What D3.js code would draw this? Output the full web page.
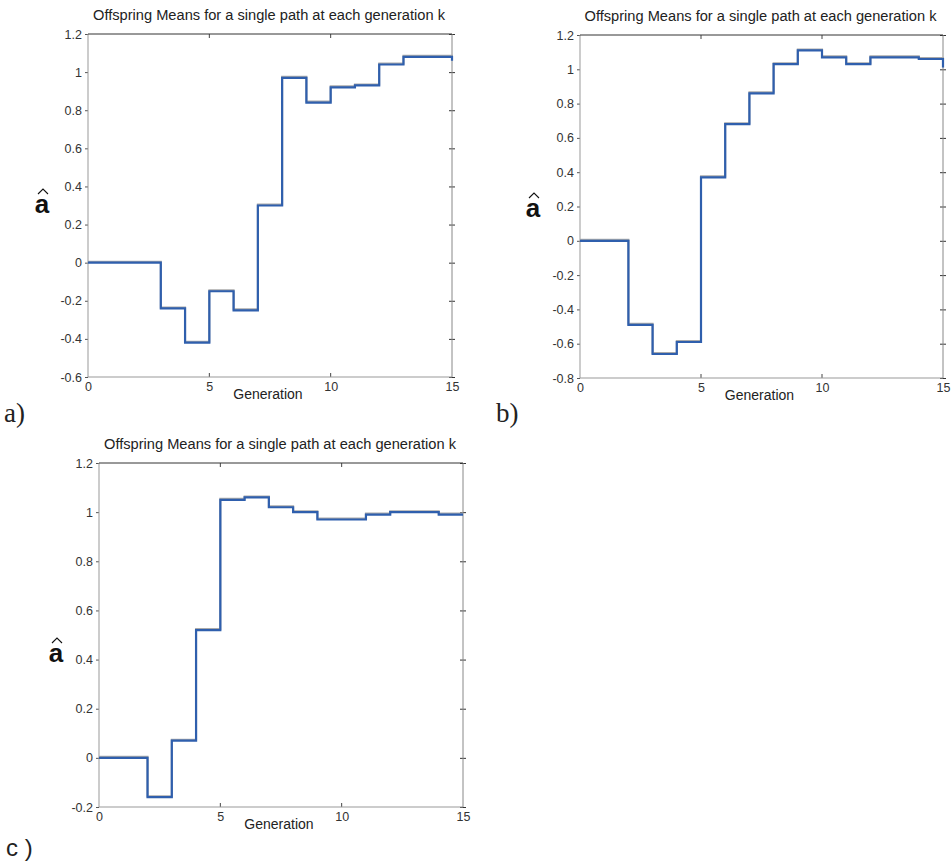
<!DOCTYPE html>
<html>
<head>
<meta charset="utf-8">
<script src="https://cdn.jsdelivr.net/npm/d3@7"></script>
<style>
  body { margin: 0; background: #fff; }
  svg { display: block; font-family: "Liberation Sans", Arial, sans-serif; }
</style>
</head>
<body>
<svg id="chart" width="952" height="861"></svg>
<script>
// generation index and the offspring mean
const generations = [0, 1, 2, 3, 4, 5, 6, 7, 8, 9, 10, 11, 12, 13, 14, 15]
const meansA = [0, 0, 0, -0.24, -0.42, -0.15, -0.25, 0.30, 0.97, 0.84, 0.92, 0.93, 1.04, 1.08, 1.08, 1.06]
const meansB = [0, 0, -0.49, -0.66, -0.59, 0.37, 0.68, 0.86, 1.03, 1.11, 1.07, 1.03, 1.07, 1.07, 1.06, 1.01]
const meansC = [0, 0, -0.16, 0.07, 0.52, 1.05, 1.06, 1.02, 1.00, 0.97, 0.97, 0.99, 1.00, 1.00, 0.99, 0.99]

const xTicks = [0, 5, 10, 15]
const yTicksA = [-0.6, -0.4, -0.2, 0, 0.2, 0.4, 0.6, 0.8, 1, 1.2]
const yTicksB = [-0.8, -0.6, -0.4, -0.2, 0, 0.2, 0.4, 0.6, 0.8, 1, 1.2]
const yTicksC = [-0.2, 0, 0.2, 0.4, 0.6, 0.8, 1, 1.2]

const title = 'Offspring Means for a single path at each generation k'
const xLabel = 'Generation'
const panelLabels = ['a)', 'b)', 'c )']

var svg = d3.select('#chart')

var panels = [
  {values: meansA, yTicks: yTicksA, label: panelLabels[0], left: 88, top: 34, right: 452, bottom: 377,
   labelX: 4, labelY: 422, serif: true, aX: 42, aY: 213},
  {values: meansB, yTicks: yTicksB, label: panelLabels[1], left: 580, top: 35, right: 943, bottom: 378,
   labelX: 496, labelY: 422, serif: true, aX: 533, aY: 217},
  {values: meansC, yTicks: yTicksC, label: panelLabels[2], left: 99, top: 463, right: 463, bottom: 807,
   labelX: 6, labelY: 856, serif: false, aX: 56, aY: 662}
]

function fmt (d) {
  return d === 0 ? '0' : String(+d.toFixed(1))
}

panels.forEach(function (p) {
  var x = d3.scaleLinear().domain([0, 15]).range([p.left, p.right])
  var y = d3.scaleLinear().domain(d3.extent(p.yTicks)).range([p.bottom, p.top])
  var g = svg.append('g')

  // title
  g.append('text')
    .attr('x', (p.left + p.right) / 2 - 1)
    .attr('y', p.top - 14)
    .attr('text-anchor', 'middle')
    .attr('textLength', 352)
    .attr('lengthAdjust', 'spacingAndGlyphs')
    .style('font-size', '14px')
    .style('fill', '#222')
    .text(title)

  // left axis, ticks a bit outside
  var yAxis = g.append('g')
    .attr('transform', 'translate(' + p.left + ',0)')
    .call(d3.axisLeft(y).tickValues(p.yTicks).tickSize(3).tickPadding(3).tickFormat(fmt))
  yAxis.select('.domain').remove()
  yAxis.selectAll('line').attr('stroke', '#555')
  yAxis.selectAll('text').style('font-size', '12.5px').style('fill', '#333').attr('font-family', null)

  // right ticks crossing the frame
  g.append('g')
    .attr('transform', 'translate(' + p.right + ',0)')
    .call(d3.axisRight(y).tickValues(p.yTicks).tickSize(3).tickFormat(''))
    .call(function (s) { s.select('.domain').remove() })
    .selectAll('line').attr('x1', -3).attr('stroke', '#333')

  // bottom axis with inward ticks
  var xAxis = g.append('g')
    .attr('transform', 'translate(0,' + p.bottom + ')')
    .call(d3.axisBottom(x).tickValues(xTicks).tickSize(0).tickPadding(5))
  xAxis.select('.domain').remove()
  xAxis.selectAll('text').style('font-size', '12.5px').style('fill', '#333').attr('font-family', null)
    .attr('dy', '0.71em')

  g.append('g')
    .selectAll('line')
    .data(xTicks.slice(1, 3))
    .enter()
    .append('line')
    .attr('x1', function (d) { return x(d) })
    .attr('x2', function (d) { return x(d) })
    .attr('y1', p.bottom)
    .attr('y2', p.bottom - 4)
    .attr('stroke', '#444')
  g.append('g')
    .selectAll('line')
    .data(xTicks.slice(1, 3))
    .enter()
    .append('line')
    .attr('x1', function (d) { return x(d) })
    .attr('x2', function (d) { return x(d) })
    .attr('y1', p.top)
    .attr('y2', p.top + 4)
    .attr('stroke', '#444')

  // frame
  g.append('line').attr('x1', p.left).attr('x2', p.left).attr('y1', p.top).attr('y2', p.bottom).attr('stroke', '#999')
  g.append('line').attr('x1', p.left).attr('x2', p.right).attr('y1', p.bottom).attr('y2', p.bottom).attr('stroke', '#999')
  g.append('line').attr('x1', p.right).attr('x2', p.right).attr('y1', p.top).attr('y2', p.bottom).attr('stroke', '#888')
  g.append('line').attr('x1', p.left).attr('x2', p.right).attr('y1', p.top).attr('y2', p.top).attr('stroke', '#333')

  // x label
  g.append('text')
    .attr('x', (p.left + p.right) / 2 - 2)
    .attr('y', p.bottom + 22)
    .attr('text-anchor', 'middle')
    .style('font-size', '14px')
    .style('fill', '#222')
    .text(xLabel)

  // y label: a with a hat drawn above it
  g.append('text')
    .attr('x', p.aX)
    .attr('y', p.aY)
    .attr('text-anchor', 'middle')
    .style('font-size', '26px')
    .style('font-weight', 'bold')
    .style('fill', '#111')
    .text('a')
  g.append('path')
    .attr('d', 'M' + (p.aX - 4) + ',' + (p.aY - 19) + 'L' + (p.aX + 1) + ',' + (p.aY - 24) + 'L' + (p.aX + 6) + ',' + (p.aY - 19))
    .attr('fill', 'none')
    .attr('stroke', '#111')
    .attr('stroke-width', 1.1)

  // stairs line
  var line = d3.line()
    .x(function (d, i) { return x(generations[i]) })
    .y(function (d) { return y(d) })
    .curve(d3.curveStepAfter)

  g.append('path')
    .datum(p.values)
    .attr('d', line)
    .attr('fill', 'none')
    .attr('stroke', '#aaa')
    .attr('stroke-width', 2)
    .attr('transform', 'translate(0,-1)')
  g.append('path')
    .datum(p.values)
    .attr('d', line)
    .attr('fill', 'none')
    .attr('stroke', '#2f5fad')
    .attr('stroke-width', 2.2)

  // panel label
  g.append('text')
    .attr('x', p.labelX)
    .attr('y', p.labelY)
    .style('font-family', p.serif ? '"Liberation Serif", "Times New Roman", serif' : '"Liberation Sans", Arial, sans-serif')
    .style('font-size', p.serif ? '27px' : '24px')
    .style('fill', '#222')
    .text(p.label)
})
</script>
</body>
</html>
